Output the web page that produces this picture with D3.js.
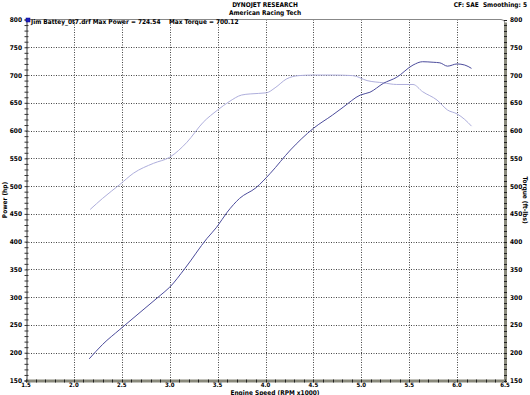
<!DOCTYPE html>
<html>
<head>
<meta charset="utf-8">
<script src="https://cdn.jsdelivr.net/npm/d3@7"></script>
<style>
  body { margin: 0; background: #fff; }
  text { font-family: "DejaVu Sans Condensed", "DejaVu Sans", sans-serif; font-weight: bold; fill: #000; white-space: pre; }
</style>
</head>
<body>
<div id="chart"></div>
<script>
// rpm x1000
let powerRpm = [2.16, 2.3, 2.48, 2.7, 2.9, 3.0, 3.16, 3.39, 3.49, 3.6, 3.73, 3.9, 4.05, 4.26, 4.5, 4.7, 4.81, 4.99, 5.09, 5.23, 5.37, 5.54, 5.64, 5.75, 5.82, 5.9, 6.0, 6.08, 6.15]
let powerHp = [189, 215, 242, 274, 303, 318, 352, 406, 426, 453, 478, 497, 523, 565, 604, 628, 642, 664, 669, 685, 696, 718, 724, 723, 722, 716, 720, 718, 712]

let torqueRpm = [2.17, 2.3, 2.48, 2.62, 2.83, 3.0, 3.18, 3.35, 3.5, 3.62, 3.75, 3.84, 4.01, 4.1, 4.22, 4.35, 4.5, 4.7, 4.91, 5.06, 5.23, 5.37, 5.54, 5.64, 5.79, 5.9, 6.0, 6.08, 6.15]
let torqueFtlb = [458, 478, 503, 523, 541, 552, 579, 615, 637, 652, 664, 666, 668, 677, 693, 699, 700, 700, 699, 690, 686, 683, 683, 670, 655, 637, 630, 620, 608]

let xTicks = [1.5, 2.0, 2.5, 3.0, 3.5, 4.0, 4.5, 5.0, 5.5, 6.0, 6.5]
let yTicks = [150, 200, 250, 300, 350, 400, 450, 500, 550, 600, 650, 700, 750, 800]

let W = 530, H = 395
let pLeft = 26, pRight = 505, pTop = 19.5, pBottom = 380.5

let svg = d3.select('#chart')
    .append('svg')
    .attr('width', W)
    .attr('height', H)

let x = d3.scaleLinear().domain([1.5, 6.5]).range([pLeft, pRight])
let y = d3.scaleLinear().domain([150, 800]).range([pBottom, pTop])

// gridlines
svg.append('g')
    .selectAll('line')
    .data(xTicks.slice(1, -1))
    .enter()
    .append('line')
    .attr('x1', d => Math.round(x(d)) + 0.5)
    .attr('x2', d => Math.round(x(d)) + 0.5)
    .attr('y1', pTop)
    .attr('y2', pBottom)
    .attr('stroke', '#444')
    .attr('stroke-dasharray', '1,1.5')

svg.append('g')
    .selectAll('line')
    .data(yTicks.slice(1, -1))
    .enter()
    .append('line')
    .attr('y1', d => Math.round(y(d)) + 0.5)
    .attr('y2', d => Math.round(y(d)) + 0.5)
    .attr('x1', pLeft)
    .attr('x2', pRight)
    .attr('stroke', '#444')
    .attr('stroke-dasharray', '1,1.5')

// frame: top line with rounded corner, right and bottom thick bars
svg.append('path')
    .attr('d', `M${pLeft},${pTop}H${pRight - 4}Q${pRight},${pTop} ${pRight},${pTop + 4}`)
    .attr('fill', 'none')
    .attr('stroke', '#888')
    .attr('stroke-width', 1)

svg.append('rect')
    .attr('x', pRight - 1)
    .attr('y', pTop + 3)
    .attr('width', 3)
    .attr('height', pBottom - pTop - 3)
    .attr('fill', '#8a8a7c')

svg.append('rect')
    .attr('x', pLeft)
    .attr('y', pBottom - 1)
    .attr('width', pRight - pLeft + 2)
    .attr('height', 3)
    .attr('fill', '#8a8a7c')

// minor ticks
let yMinor = d3.range(150, 801, 10)
let xMinor = d3.range(15, 66, 1).map(d => d / 10)

svg.append('g')
    .selectAll('line')
    .data(yMinor)
    .enter()
    .append('line')
    .attr('x1', pRight - 1)
    .attr('x2', pRight + 2)
    .attr('y1', d => Math.round(y(d)) + 0.5)
    .attr('y2', d => Math.round(y(d)) + 0.5)
    .attr('stroke', '#222')

svg.append('g')
    .selectAll('line')
    .data(xMinor)
    .enter()
    .append('line')
    .attr('y1', pBottom - 1)
    .attr('y2', pBottom + 2)
    .attr('x1', d => Math.round(x(d)) + 0.5)
    .attr('x2', d => Math.round(x(d)) + 0.5)
    .attr('stroke', '#222')

// left axis
let yAxisL = d3.axisLeft(y).tickValues(yMinor).tickSize(2).tickFormat('')
svg.append('g')
    .attr('transform', `translate(${pLeft + 0.5},0)`)
    .call(yAxisL)
    .call(g => g.select('.domain').attr('stroke', '#333'))
    .call(g => g.selectAll('.tick line').attr('x2', -2).attr('x1', 2).attr('stroke', '#333'))

// tick labels
svg.append('g')
    .selectAll('text')
    .data(yTicks)
    .enter()
    .append('text')
    .attr('x', pLeft - 4)
    .attr('y', d => y(d) + 2.5)
    .attr('text-anchor', 'end')
    .attr('font-size', 6.5)
    .text(d => d)

svg.append('g')
    .selectAll('text')
    .data(yTicks)
    .enter()
    .append('text')
    .attr('x', pRight + 5)
    .attr('y', d => y(d) + 2.5)
    .attr('font-size', 6.5)
    .text(d => d)

svg.append('g')
    .selectAll('text')
    .data(xTicks)
    .enter()
    .append('text')
    .attr('x', d => x(d))
    .attr('y', pBottom + 6.5)
    .attr('text-anchor', 'middle')
    .attr('font-size', 6)
    .text(d => d.toFixed(1))

// lines
let line = d3.line().curve(d3.curveMonotoneX)

svg.append('path')
    .attr('d', line(torqueRpm.map((r, i) => [x(r), y(torqueFtlb[i])])))
    .attr('fill', 'none')
    .attr('stroke', '#aeaedc')
    .attr('stroke-width', 1)

svg.append('path')
    .attr('d', line(powerRpm.map((r, i) => [x(r), y(powerHp[i])])))
    .attr('fill', 'none')
    .attr('stroke', '#4c4c9c')
    .attr('stroke-width', 1)

// titles
svg.append('text')
    .attr('x', 265).attr('y', 7)
    .attr('text-anchor', 'middle')
    .attr('font-size', 6.5)
    .text('DYNOJET RESEARCH')

svg.append('text')
    .attr('x', 265).attr('y', 15)
    .attr('text-anchor', 'middle')
    .attr('font-size', 6.5)
    .text('American Racing Tech')

svg.append('text')
    .attr('x', 527).attr('y', 7)
    .attr('text-anchor', 'end')
    .attr('font-size', 6.5)
    .text('CF: SAE  Smoothing: 5')

// legend
svg.append('rect')
    .attr('x', 26).attr('y', 18)
    .attr('width', 4).attr('height', 4)
    .attr('fill', '#2020c0')
    .attr('stroke', '#000088')
    .attr('stroke-width', 0.5)

svg.append('text')
    .attr('x', 31).attr('y', 23.5)
    .attr('font-size', 6.5)
    .text('Jim Battey_0t7.drf Max Power = 724.54')

svg.append('text')
    .attr('x', 169).attr('y', 23.5)
    .attr('font-size', 6.5)
    .text('Max Torque = 700.12')

// axis titles
svg.append('text')
    .attr('transform', 'translate(7,200) rotate(-90)')
    .attr('text-anchor', 'middle')
    .attr('font-size', 6.5)
    .text('Power (hp)')

svg.append('text')
    .attr('transform', 'translate(523,200) rotate(90)')
    .attr('text-anchor', 'middle')
    .attr('font-size', 6.5)
    .text('Torque (ft-lbs)')

svg.append('text')
    .attr('x', 275).attr('y', 394.5)
    .attr('text-anchor', 'middle')
    .attr('font-size', 6.5)
    .text('Engine Speed (RPM x1000)')
</script>
</body>
</html>
